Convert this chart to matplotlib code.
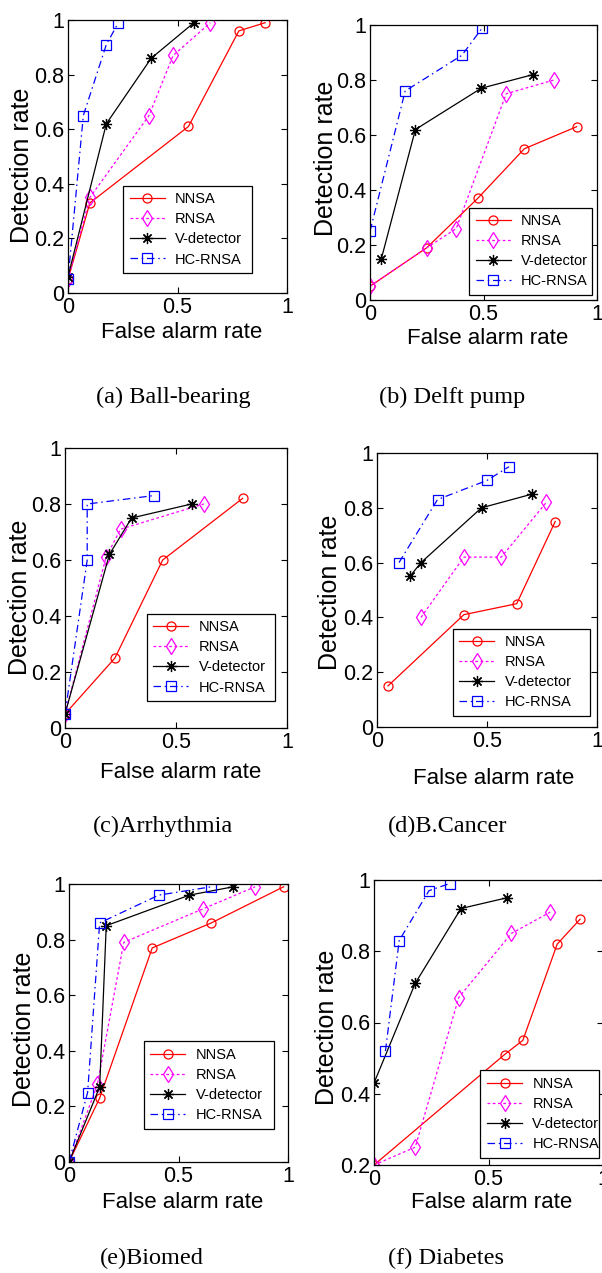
import matplotlib
matplotlib.use("Agg")
import matplotlib.pyplot as plt
from matplotlib.ticker import FuncFormatter

W, H = 602, 1273
DPI = 100

series_names = ["NNSA", "RNSA", "V-detector", "HC-RNSA"]

# (a) Ball-bearing
a_nnsa_x = [0.0, 0.10, 0.55, 0.78, 0.90]
a_nnsa_y = [0.05, 0.33, 0.61, 0.96, 0.99]
a_rnsa_x = [0.0, 0.10, 0.37, 0.48, 0.65]
a_rnsa_y = [0.05, 0.35, 0.65, 0.87, 0.99]
a_vdet_x = [0.0, 0.175, 0.38, 0.575]
a_vdet_y = [0.06, 0.62, 0.86, 0.99]
a_hc_x = [0.0, 0.07, 0.175, 0.23]
a_hc_y = [0.05, 0.65, 0.91, 0.99]

# (b) Delft pump
b_nnsa_x = [0.0, 0.25, 0.475, 0.68, 0.91]
b_nnsa_y = [0.05, 0.19, 0.37, 0.55, 0.63]
b_rnsa_x = [0.0, 0.25, 0.38, 0.60, 0.81]
b_rnsa_y = [0.05, 0.19, 0.26, 0.75, 0.80]
b_vdet_x = [0.05, 0.20, 0.49, 0.72]
b_vdet_y = [0.15, 0.62, 0.77, 0.82]
b_hc_x = [0.0, 0.155, 0.405, 0.495]
b_hc_y = [0.25, 0.76, 0.89, 0.99]

# (c) Arrhythmia
c_nnsa_x = [0.0, 0.225, 0.44, 0.80]
c_nnsa_y = [0.05, 0.25, 0.60, 0.82]
c_rnsa_x = [0.0, 0.185, 0.25, 0.625]
c_rnsa_y = [0.05, 0.61, 0.71, 0.80]
c_vdet_x = [0.0, 0.20, 0.30, 0.57]
c_vdet_y = [0.05, 0.62, 0.75, 0.80]
c_hc_x = [0.0, 0.10, 0.10, 0.40]
c_hc_y = [0.05, 0.60, 0.80, 0.83]

# (d) B.Cancer
d_nnsa_x = [0.05, 0.395, 0.635, 0.81]
d_nnsa_y = [0.15, 0.41, 0.45, 0.75]
d_rnsa_x = [0.20, 0.395, 0.565, 0.77]
d_rnsa_y = [0.40, 0.62, 0.62, 0.82]
d_vdet_x = [0.15, 0.20, 0.475, 0.705]
d_vdet_y = [0.55, 0.60, 0.80, 0.85]
d_hc_x = [0.10, 0.275, 0.50, 0.60]
d_hc_y = [0.60, 0.83, 0.90, 0.95]

# (e) Biomed
e_nnsa_x = [0.0, 0.14, 0.38, 0.65, 0.98]
e_nnsa_y = [0.0, 0.23, 0.77, 0.86, 0.99]
e_rnsa_x = [0.0, 0.13, 0.25, 0.61, 0.85]
e_rnsa_y = [0.0, 0.28, 0.79, 0.91, 0.99]
e_vdet_x = [0.0, 0.14, 0.17, 0.55, 0.75]
e_vdet_y = [0.0, 0.27, 0.85, 0.96, 0.99]
e_hc_x = [0.0, 0.085, 0.14, 0.41, 0.65]
e_hc_y = [0.0, 0.25, 0.86, 0.96, 0.99]

# (f) Diabetes
f_nnsa_x = [0.0, 0.57, 0.65, 0.80, 0.90]
f_nnsa_y = [0.20, 0.51, 0.55, 0.82, 0.89]
f_rnsa_x = [0.0, 0.18, 0.37, 0.60, 0.77]
f_rnsa_y = [0.20, 0.25, 0.67, 0.85, 0.91]
f_vdet_x = [0.0, 0.18, 0.38, 0.58]
f_vdet_y = [0.43, 0.71, 0.92, 0.95]
f_hc_x = [0.05, 0.11, 0.24, 0.33]
f_hc_y = [0.52, 0.83, 0.97, 0.99]

captions = ["(a) Ball-bearing", "(b) Delft pump", "(c)Arrhythmia",
            "(d)B.Cancer", "(e)Biomed", "(f) Diabetes"]
x_label = "False alarm rate"
y_label = "Detection rate"

panels = [
    dict(data=[(a_nnsa_x, a_nnsa_y), (a_rnsa_x, a_rnsa_y), (a_vdet_x, a_vdet_y), (a_hc_x, a_hc_y)],
         box=(68, 20, 287, 293), ylim=(0, 1), yticks=[0, 0.2, 0.4, 0.6, 0.8, 1.0],
         leg=(0.251, 0.073, 0.589), xl=(182, 333), yl=(22, 165), cap=(173, 397)),
    dict(data=[(b_nnsa_x, b_nnsa_y), (b_rnsa_x, b_rnsa_y), (b_vdet_x, b_vdet_y), (b_hc_x, b_hc_y)],
         box=(370, 25, 597, 300), ylim=(0, 1), yticks=[0, 0.2, 0.4, 0.6, 0.8, 1.0],
         leg=(0.436, 0.018, 0.542), xl=(488, 338), yl=(326, 158), cap=(452, 397)),
    dict(data=[(c_nnsa_x, c_nnsa_y), (c_rnsa_x, c_rnsa_y), (c_vdet_x, c_vdet_y), (c_hc_x, c_hc_y)],
         box=(65, 448, 287, 728), ylim=(0, 1), yticks=[0, 0.2, 0.4, 0.6, 0.8, 1.0],
         leg=(0.369, 0.096, 0.577), xl=(181, 772), yl=(20, 597), cap=(163, 826)),
    dict(data=[(d_nnsa_x, d_nnsa_y), (d_rnsa_x, d_rnsa_y), (d_vdet_x, d_vdet_y), (d_hc_x, d_hc_y)],
         box=(377, 453, 597, 727), ylim=(0, 1), yticks=[0, 0.2, 0.4, 0.6, 0.8, 1.0],
         leg=(0.345, 0.040, 0.623), xl=(494, 778), yl=(330, 592), cap=(448, 826)),
    dict(data=[(e_nnsa_x, e_nnsa_y), (e_rnsa_x, e_rnsa_y), (e_vdet_x, e_vdet_y), (e_hc_x, e_hc_y)],
         box=(69, 884, 288, 1162), ylim=(0, 1), yticks=[0, 0.2, 0.4, 0.6, 0.8, 1.0],
         leg=(0.342, 0.119, 0.594), xl=(183, 1202), yl=(24, 1029), cap=(152, 1258)),
    dict(data=[(f_nnsa_x, f_nnsa_y), (f_rnsa_x, f_rnsa_y), (f_vdet_x, f_vdet_y), (f_hc_x, f_hc_y)],
         box=(374, 880, 603, 1165), ylim=(0.2, 1), yticks=[0.2, 0.4, 0.6, 0.8, 1.0],
         leg=(0.465, 0.025, 0.517), xl=(492, 1203), yl=(327, 1027), cap=(446, 1258)),
]

styles = [
    dict(color="#ff0000", linestyle="-", marker="o", markersize=6.5, markerfacecolor="none"),
    dict(color="#ff00ff", linestyle=(0, (2.2, 2.0)), marker="d", markersize=8.5, markerfacecolor="none"),
    dict(color="#000000", linestyle="-", marker=(8, 2, 0), markersize=8, markerfacecolor="#000000"),
    dict(color="#0000ff", linestyle=(0, (6, 3, 1.2, 3)), marker="s", markersize=6.5, markerfacecolor="none"),
]

SANS = ["Liberation Sans", "DejaVu Sans"]
SERIF = ["Liberation Serif", "DejaVu Serif"]

fig = plt.figure(figsize=(W / DPI, H / DPI), dpi=DPI)
fig.patch.set_facecolor("white")

def fx(px):
    return px / W

def fy(py):
    return 1 - py / H

fmt = FuncFormatter(lambda v, p: ("%g" % round(v, 3)))

for p, cap in zip(panels, captions):
    x0, y0, x1, y1 = p["box"]
    ax = fig.add_axes([fx(x0), fy(y1), (x1 - x0) / W, (y1 - y0) / H])
    for (xs, ys), st, name in zip(p["data"], styles, series_names):
        ax.plot(xs, ys, label=name, linewidth=0.9, markeredgewidth=0.9, **st)
    ax.set_xlim(0, 1)
    ax.set_ylim(*p["ylim"])
    ax.set_xticks([0, 0.5, 1.0])
    ax.set_yticks(p["yticks"])
    ax.xaxis.set_major_formatter(fmt)
    ax.yaxis.set_major_formatter(fmt)
    ax.tick_params(direction="in", length=4, width=0.8, top=True, right=True,
                   labelsize=15.5, pad=3)
    for lab in ax.get_xticklabels() + ax.get_yticklabels():
        lab.set_family(SANS)
    for sp in ax.spines.values():
        sp.set_linewidth(0.9)
        sp.set_color("black")
    lx, ly, lw = p["leg"]
    leg = ax.legend(loc="lower left", bbox_to_anchor=(lx, ly, lw, 0.3), mode="expand",
                    prop={"family": SANS, "size": 10.5}, frameon=True, fancybox=False,
                    framealpha=1, edgecolor="black", borderpad=0.45, labelspacing=0.42,
                    handlelength=2.4, handletextpad=0.7, borderaxespad=0)
    leg.get_frame().set_linewidth(0.9)
    fig.text(fx(p["xl"][0]), fy(p["xl"][1]), x_label, ha="center", va="center",
             fontsize=16, family=SANS)
    fig.text(fx(p["yl"][0]), fy(p["yl"][1]), y_label, ha="center", va="center",
             rotation=90, fontsize=18, family=SANS)
    fig.text(fx(p["cap"][0]), fy(p["cap"][1]), cap, ha="center", va="center",
             fontsize=17.5, family=SERIF)

fig.savefig("out.png", dpi=DPI, facecolor="white")
